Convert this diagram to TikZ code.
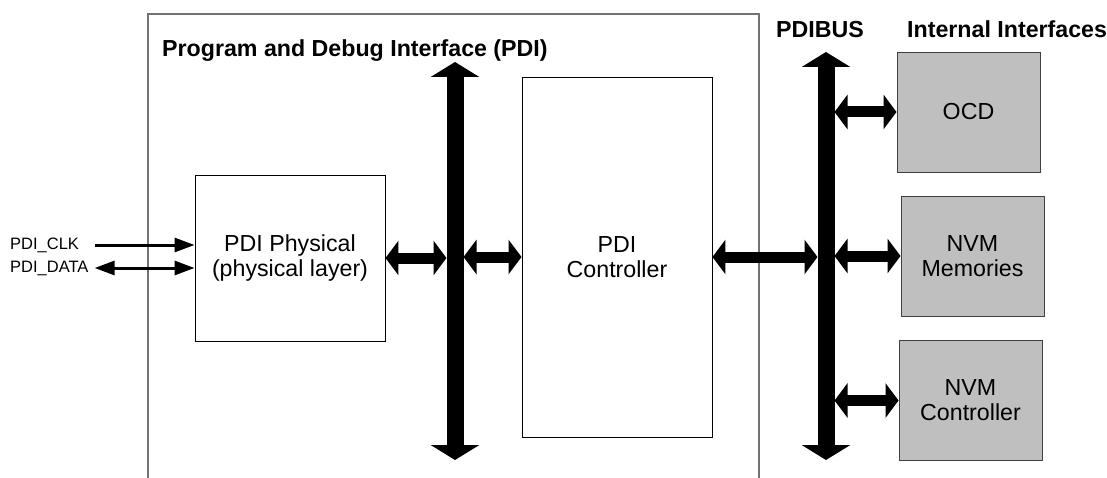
\documentclass[tikz,border=0pt]{standalone}
\usepackage{fontspec}
\setmainfont{Liberation Sans}
\usetikzlibrary{arrows.meta, positioning}
\def\busHalf{8.5pt}
\newcommand{\boxfont}{\fontsize{23.2}{25}\selectfont}
\newcommand{\sigfont}{\fontsize{16.5}{18}\selectfont}

\begin{document}
\begin{tikzpicture}[
    x=1pt, y=-1pt,
    box/.style={draw, line width=0.9pt, align=center, font=\boxfont, inner sep=0pt},
    ifbox/.style={box, fill=black!25, draw=black!75, minimum width=143pt, minimum height=120pt},
    bus/.style={line width=17pt, {Triangle[width=48pt,length=15pt]}-{Triangle[width=48pt,length=15pt]}},
    link/.style={line width=11pt, {Triangle[width=34pt,length=13pt]}-{Triangle[width=34pt,length=13pt]}},
    sig/.style={line width=3pt, -{Triangle[width=14pt,length=20pt]}},
    sigboth/.style={sig, {Triangle[width=14pt,length=20pt]}-{Triangle[width=14pt,length=20pt]}},
    lbl/.style={font=\sigfont, anchor=west, inner sep=0pt},
    head/.style={font=\boxfont\bfseries, anchor=base west, inner sep=0pt}
]
\useasboundingbox (0,0) rectangle (1107,478);

% PDI frame, open at the bottom
\draw[black!55, line width=1.5pt] (148,478) |- (759,14) -- (759,478);

% the two buses
\coordinate (bus1top) at (455,62);
\coordinate (bus1bot) at (455,460);
\coordinate (bus2top) at (826,52);
\coordinate (bus2bot) at (826,460);
\draw[bus] (bus1top) -- (bus1bot);
\draw[bus] (bus2top) -- (bus2bot);

\node[head] (title) at (162,57) {Program and Debug Interface (PDI)};
\node[head, anchor=base] (busname) at (820,38) {PDIBUS};
\node[head] (ifname) at (907,38) {Internal Interfaces};

\node[box, minimum width=190pt, minimum height=166pt] (phys) at (290,258) {PDI Physical\\(physical layer)};
\node[box, minimum width=190pt, minimum height=360pt] (ctrl) at (617,257) {PDI\\Controller};

\node[ifbox] (ocd) at (968.5,112) {OCD};
\node[ifbox] (nvmm) at (972.5,256) {NVM\\Memories};
\node[ifbox] (nvmc) at (970.5,400.5) {NVM\\Controller};

\draw[link, shorten >=\busHalf] (phys.east) -- (phys.east -| bus1top);
\draw[link, shorten <=\busHalf] (ctrl.west -| bus1top) -- (ctrl.west);
\draw[link, shorten >=\busHalf] (ctrl.east) -- (ctrl.east -| bus2top);
\draw[link, shorten <=\busHalf] (ocd.west -| bus2top) -- (ocd.west);
\draw[link, shorten <=\busHalf] (nvmm.west -| bus2top) -- (nvmm.west);
\draw[link, shorten <=\busHalf] (nvmc.west -| bus2top) -- (nvmc.west);

% external pins
\node[lbl] (clk) at (10,245) {PDI\_CLK};
\node[lbl] (data) at (10,268) {PDI\_DATA};
\draw[sig] ([xshift=16pt]clk.east) -- (clk.east -| phys.west);
\draw[sigboth] ([xshift=6pt]data.east) -- (data.east -| phys.west);
\end{tikzpicture}
\end{document}
